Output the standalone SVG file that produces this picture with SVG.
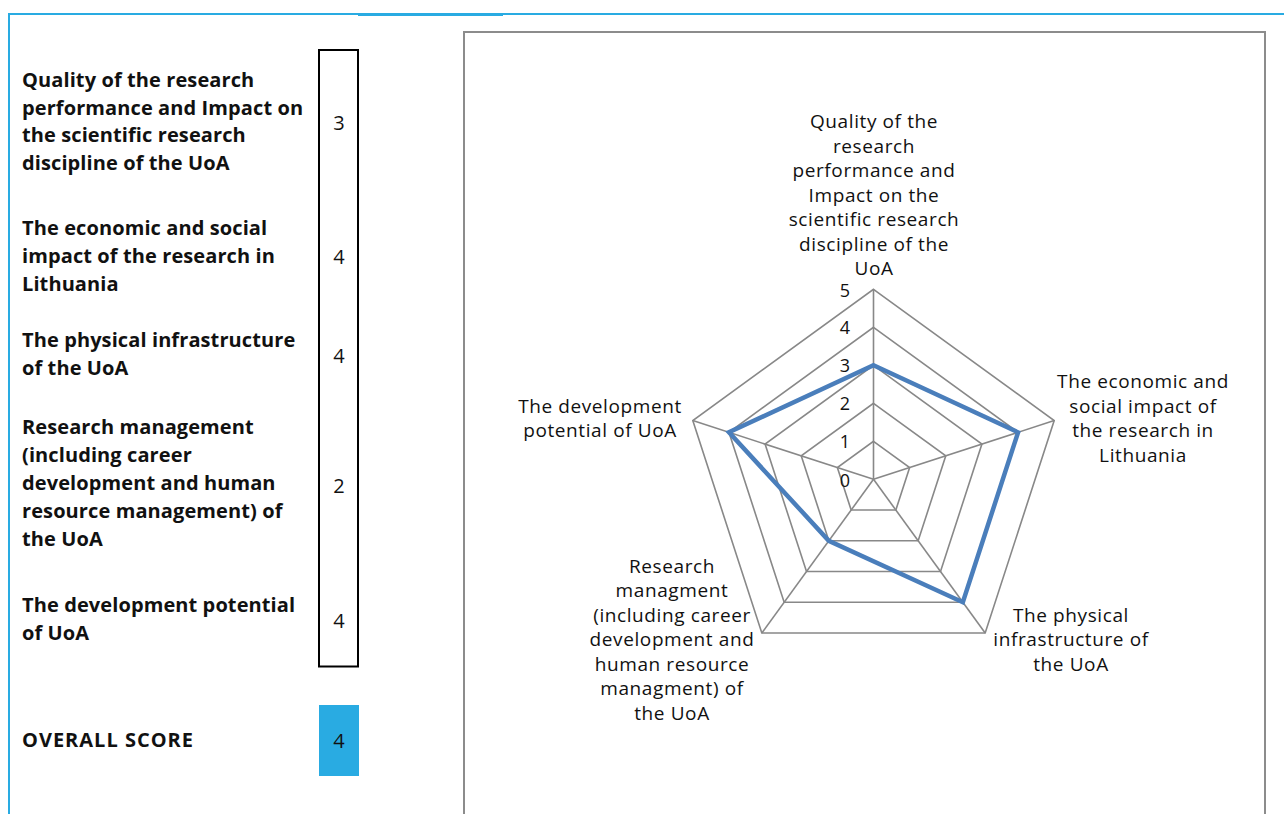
<svg xmlns="http://www.w3.org/2000/svg" width="1284" height="814" viewBox="0 0 1284 814">
  <style>
    .crit { font-family: "Open Sans", "Noto Sans", sans-serif; font-weight: bold; font-size: 20px; letter-spacing: 0.1px; fill: #111; }
    .score { font-family: "Open Sans", "Noto Sans", sans-serif; font-size: 20px; fill: #111; text-anchor: middle; }
    .cat { font-family: "Open Sans", "Noto Sans", sans-serif; font-size: 19px; letter-spacing: 0.6px; fill: #111; text-anchor: middle; }
    .tick { font-family: "Open Sans", "Noto Sans", sans-serif; font-size: 18px; fill: #111; text-anchor: end; }
    .grid { fill: none; stroke: #888; stroke-width: 1.6; }
    .series { fill: none; stroke: #4a7ebb; stroke-width: 4.5; stroke-linejoin: miter; }
  </style>
  <rect width="1284" height="814" fill="#fff"/>

  <!-- page frame -->
  <g id="frame">
    <line x1="8" y1="14" x2="1284" y2="14" stroke="#29abe2" stroke-width="2"/>
    <rect x="358" y="14" width="145" height="2" fill="#29abe2"/>
    <line x1="9" y1="13" x2="9" y2="814" stroke="#29abe2" stroke-width="2"/>
  </g>

  <!-- criteria list -->
  <g id="criteria">
    <text class="crit" x="22" y="87">Quality of the research</text>
    <text class="crit" x="22" y="115">performance and Impact on</text>
    <text class="crit" x="22" y="142">the scientific research</text>
    <text class="crit" x="22" y="170">discipline of the UoA</text>

    <text class="crit" x="22" y="235">The economic and social</text>
    <text class="crit" x="22" y="263">impact of the research in</text>
    <text class="crit" x="22" y="291">Lithuania</text>

    <text class="crit" x="22" y="347">The physical infrastructure</text>
    <text class="crit" x="22" y="375">of the UoA</text>

    <text class="crit" x="22" y="434">Research management</text>
    <text class="crit" x="22" y="462">(including career</text>
    <text class="crit" x="22" y="490">development and human</text>
    <text class="crit" x="22" y="518">resource management) of</text>
    <text class="crit" x="22" y="546">the UoA</text>

    <text class="crit" x="22" y="612">The development potential</text>
    <text class="crit" x="22" y="640">of UoA</text>

    <text class="crit" x="22" y="747" style="letter-spacing:1px">OVERALL SCORE</text>
  </g>

  <!-- score column -->
  <g id="scores">
    <rect x="319" y="50" width="39" height="616.5" fill="none" stroke="#000" stroke-width="2"/>
    <text class="score" x="339" y="130">3</text>
    <text class="score" x="339" y="264">4</text>
    <text class="score" x="339" y="363">4</text>
    <text class="score" x="339" y="493">2</text>
    <text class="score" x="339" y="628">4</text>
  </g>

  <g id="overall">
    <rect x="319" y="705" width="40" height="71" fill="#29abe2"/>
    <text class="score" x="339" y="748">4</text>
  </g>

  <!-- radar chart -->
  <g id="chart">
    <rect x="464" y="32" width="801" height="800" fill="none" stroke="#8c8c8c" stroke-width="2"/>

    <g id="grid" class="grid">
      <polygon points="873.5,441.3 909.64,467.56 895.84,510.04 851.16,510.04 837.36,467.56"/>
      <polygon points="873.5,403.3 945.78,455.81 918.17,540.78 828.83,540.78 801.22,455.81"/>
      <polygon points="873.5,365.3 981.92,444.07 940.51,571.53 806.49,571.53 765.08,444.07"/>
      <polygon points="873.5,327.3 1018.06,432.33 962.85,602.27 784.15,602.27 728.94,432.33"/>
      <polygon points="873.5,289.3 1054.2,420.59 985.18,633.02 761.82,633.02 692.8,420.59"/>
      <line x1="873.5" y1="479.3" x2="873.5" y2="289.3"/>
      <line x1="873.5" y1="479.3" x2="1054.2" y2="420.59"/>
      <line x1="873.5" y1="479.3" x2="985.18" y2="633.02"/>
      <line x1="873.5" y1="479.3" x2="761.82" y2="633.02"/>
      <line x1="873.5" y1="479.3" x2="692.8" y2="420.59"/>
    </g>

    <g id="ticks">
      <text class="tick" x="850" y="297">5</text>
      <text class="tick" x="850" y="334">4</text>
      <text class="tick" x="850" y="372">3</text>
      <text class="tick" x="850" y="410">2</text>
      <text class="tick" x="850" y="448">1</text>
      <text class="tick" x="850" y="487">0</text>
    </g>

    <polygon id="series" class="series" points="873.5,365.3 1018.06,432.33 962.85,602.27 828.83,540.78 728.94,432.33"/>

    <g id="cat-quality">
      <text class="cat" x="874" y="128">Quality of the</text>
      <text class="cat" x="874" y="153">research</text>
      <text class="cat" x="874" y="177">performance and</text>
      <text class="cat" x="874" y="202">Impact on the</text>
      <text class="cat" x="874" y="226">scientific research</text>
      <text class="cat" x="874" y="251">discipline of the</text>
      <text class="cat" x="874" y="275">UoA</text>
    </g>
    <g id="cat-economic">
      <text class="cat" x="1143" y="388">The economic and</text>
      <text class="cat" x="1143" y="413">social impact of</text>
      <text class="cat" x="1143" y="437">the research in</text>
      <text class="cat" x="1143" y="462">Lithuania</text>
    </g>
    <g id="cat-physical">
      <text class="cat" x="1071" y="622">The physical</text>
      <text class="cat" x="1071" y="646">infrastructure of</text>
      <text class="cat" x="1071" y="671">the UoA</text>
    </g>
    <g id="cat-management">
      <text class="cat" x="672" y="573">Research</text>
      <text class="cat" x="672" y="597">managment</text>
      <text class="cat" x="672" y="622">(including career</text>
      <text class="cat" x="672" y="646">development and</text>
      <text class="cat" x="672" y="671">human resource</text>
      <text class="cat" x="672" y="695">managment) of</text>
      <text class="cat" x="672" y="720">the UoA</text>
    </g>
    <g id="cat-development">
      <text class="cat" x="600" y="413">The development</text>
      <text class="cat" x="600" y="437">potential of UoA</text>
    </g>
  </g>
</svg>
